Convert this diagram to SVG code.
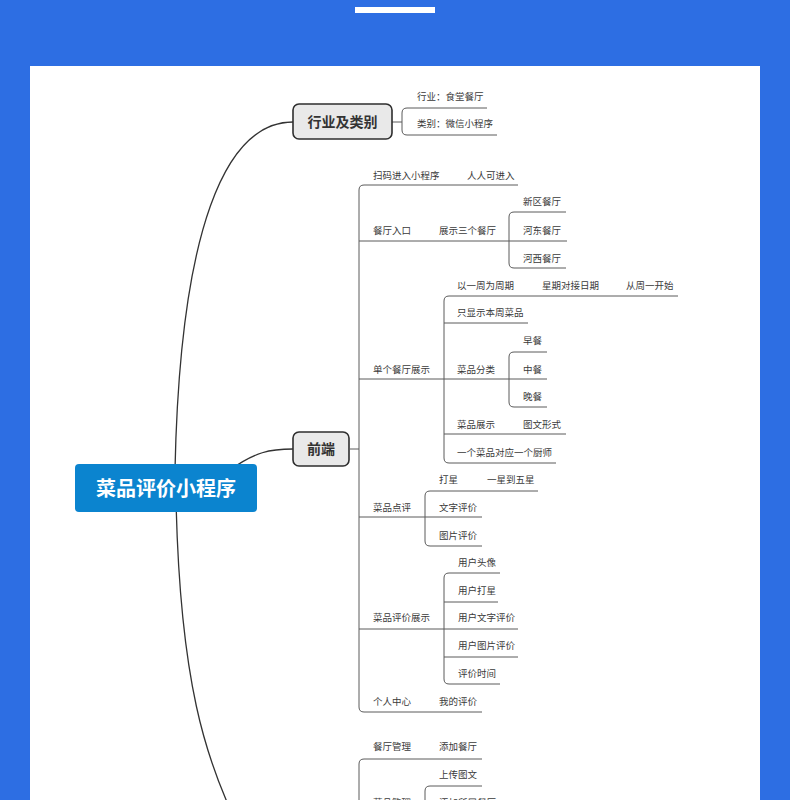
<svg xmlns="http://www.w3.org/2000/svg" width="790" height="800" viewBox="0 0 790 800">
<style>
.t{font-family:"Noto Sans CJK SC","Noto Sans",sans-serif;font-size:9.5px;fill:#3a3a3a}
.main{fill:none;stroke:#333;stroke-width:1.3}
.br{fill:none;stroke:#5a5a5a;stroke-width:1}
.topic{fill:#e9e9e9;stroke:#2e2e2e;stroke-width:1.6}
.tt{font-family:"Noto Sans CJK SC","Noto Sans",sans-serif;font-size:14px;font-weight:bold;fill:#333;text-anchor:middle}
</style>
<rect x="0" y="0" width="790" height="800" fill="#2d6ee3"/>
<rect x="355" y="7" width="80" height="6" fill="#ffffff"/>
<rect x="30" y="66" width="730" height="734" fill="#ffffff"/>
<g id="connectors">
<path class="main" d="M175,470 C180,230 225,122 293,122"/>
<path class="main" d="M230,470 C255,452 270,449 293,449"/>
<path class="main" d="M176,500 C180,680 205,760 240,830"/>
<path class="br" d="M392,122 H402 M487,108 H407 Q402,108 402,113 V130 Q402,135 407,135 H497"/>
<path class="br" d="M350,449 H359 M518,185 H364 Q359,185 359,190 V707 Q359,712 364,712 H482 M359,241 H567 M359,379 H547 M359,517 H482 M359,629 H518"/>
<path class="br" d="M566,212 H514 Q509,212 509,217 V263 Q509,268 514,268 H566"/>
<path class="br" d="M678,296 H449 Q444,296 444,301 V458 Q444,463 449,463 H556 M444,323 H528 M444,434 H566"/>
<path class="br" d="M547,352 H514 Q509,352 509,357 V402 Q509,407 514,407 H547"/>
<path class="br" d="M538,491 H430 Q425,491 425,496 V541 Q425,546 430,546 H482"/>
<path class="br" d="M500,573 H449 Q444,573 444,578 V679 Q444,684 449,684 H500 M444,602 H498 M444,657 H518"/>
<path class="br" d="M482,759 H364 Q359,759 359,764 V810 M482,786 H430 Q425,786 425,791 V810"/>
</g>
<g id="root">
<rect x="75" y="464" width="182" height="48" rx="4" fill="#0b84cf"/>
<text x="166" y="496" font-family="Noto Sans CJK SC,Noto Sans,sans-serif" font-size="20" font-weight="bold" fill="#ffffff" text-anchor="middle">菜品评价小程序</text>
</g>
<g id="n-industry">
<rect class="topic" x="293" y="104" width="99" height="35" rx="6"/>
<text class="tt" x="342.5" y="127">行业及类别</text>
</g>
<g id="n-ind-1"><text class="t" x="417" y="99.5">行业：食堂餐厅</text></g>
<g id="n-ind-2"><text class="t" x="417" y="127">类别：微信小程序</text></g>
<g id="n-front">
<rect class="topic" x="293" y="432" width="56" height="34" rx="6"/>
<text class="tt" x="321" y="454">前端</text>
</g>
<g id="n-scan"><text class="t" x="373" y="178.5">扫码进入小程序</text></g>
<g id="n-anyone"><text class="t" x="467" y="178.5">人人可进入</text></g>
<g id="n-entry"><text class="t" x="373" y="233.5">餐厅入口</text></g>
<g id="n-show3"><text class="t" x="439" y="233.5">展示三个餐厅</text></g>
<g id="n-xq"><text class="t" x="523" y="205">新区餐厅</text></g>
<g id="n-hd"><text class="t" x="523" y="233.5">河东餐厅</text></g>
<g id="n-hx"><text class="t" x="523" y="261.5">河西餐厅</text></g>
<g id="n-single"><text class="t" x="373" y="372.5">单个餐厅展示</text></g>
<g id="n-week"><text class="t" x="457" y="288.5">以一周为周期</text></g>
<g id="n-weekday"><text class="t" x="542" y="288.5">星期对接日期</text></g>
<g id="n-monday"><text class="t" x="626" y="288.5">从周一开始</text></g>
<g id="n-thisweek"><text class="t" x="457" y="316">只显示本周菜品</text></g>
<g id="n-cat"><text class="t" x="457" y="372.5">菜品分类</text></g>
<g id="n-bf"><text class="t" x="523" y="344">早餐</text></g>
<g id="n-lunch"><text class="t" x="523" y="372.5">中餐</text></g>
<g id="n-dinner"><text class="t" x="523" y="400">晚餐</text></g>
<g id="n-dishshow"><text class="t" x="457" y="427.5">菜品展示</text></g>
<g id="n-imgtext"><text class="t" x="523" y="427.5">图文形式</text></g>
<g id="n-chef"><text class="t" x="457" y="456">一个菜品对应一个厨师</text></g>
<g id="n-review"><text class="t" x="373" y="510.5">菜品点评</text></g>
<g id="n-star"><text class="t" x="439" y="482.5">打星</text></g>
<g id="n-1to5"><text class="t" x="487" y="482.5">一星到五星</text></g>
<g id="n-textrev"><text class="t" x="439" y="510.5">文字评价</text></g>
<g id="n-imgrev"><text class="t" x="439" y="538.5">图片评价</text></g>
<g id="n-revshow"><text class="t" x="373" y="621">菜品评价展示</text></g>
<g id="n-avatar"><text class="t" x="458" y="565.5">用户头像</text></g>
<g id="n-ustar"><text class="t" x="458" y="593.5">用户打星</text></g>
<g id="n-utext"><text class="t" x="458" y="621">用户文字评价</text></g>
<g id="n-uimg"><text class="t" x="458" y="648.5">用户图片评价</text></g>
<g id="n-time"><text class="t" x="458" y="676.5">评价时间</text></g>
<g id="n-me"><text class="t" x="373" y="704.5">个人中心</text></g>
<g id="n-myrev"><text class="t" x="439" y="704.5">我的评价</text></g>
<g id="n-restmgr"><text class="t" x="373" y="750">餐厅管理</text></g>
<g id="n-addrest"><text class="t" x="439" y="750">添加餐厅</text></g>
<g id="n-upload"><text class="t" x="439" y="777.5">上传图文</text></g>
<g id="n-dishmgr"><text class="t" x="373" y="806">菜品管理</text></g>
<g id="n-addbelong"><text class="t" x="439" y="806">添加所属餐厅</text></g>
</svg>
